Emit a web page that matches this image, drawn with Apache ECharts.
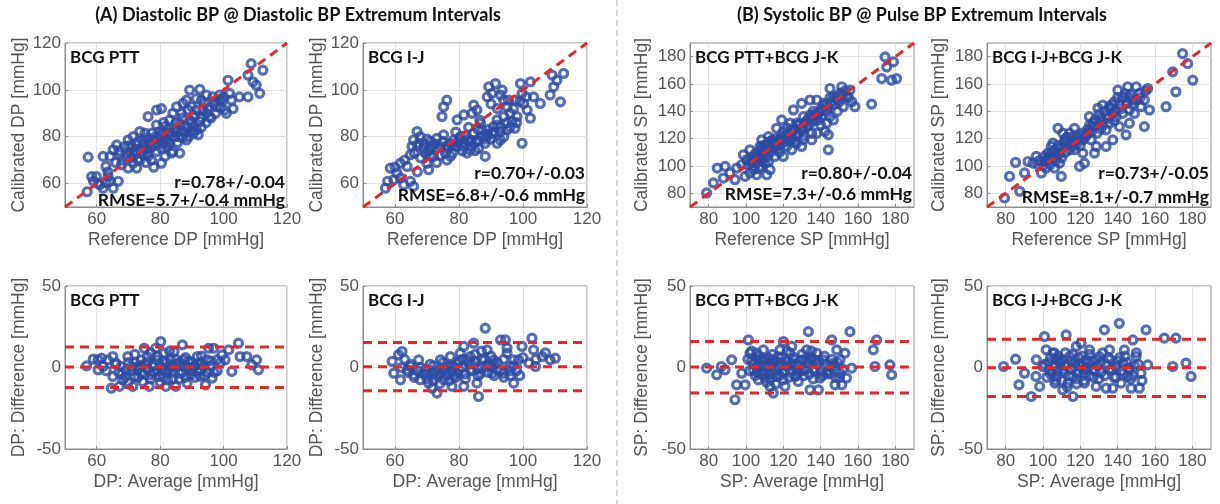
<!DOCTYPE html>
<html>
<head>
<meta charset="utf-8">
<script src="https://cdn.jsdelivr.net/npm/echarts@6/dist/echarts.min.js"></script>
<style>
  html, body { margin: 0; padding: 0; background: #fff; }
  #chart { width: 1220px; height: 504px; }
</style>
</head>
<body>
<div id="chart"></div>
<script>
// tick labels
const dpTicks = [60, 80, 100, 120];
const spTicks = [80, 100, 120, 140, 160, 180];
const diffTicks = [-50, 0, 50];

// top row: [reference, calibrated]
const dpPtt = [
  [57.3,71.3],[58.4,63],[59.9,63],[59,61],[61,59.5],[62,71.6],[62.9,67.3],[63.6,63],[65.2,58],[66.8,61],
  [65.2,74.4],[64.2,71.6],[66.3,76.5],[67.3,72.3],[67.8,68],[69.4,71.6],[69.9,78.6],[71,75.8],[72,72.3],[71.5,68.7],
  [72.6,66.6],[73.6,82.2],[74.7,78.6],[75.7,75],[76.2,71.6],[77.3,70],[78.9,73.7],[80.4,68.7],[77.3,81.5],[76.2,88.6],
  [78.9,91.4],[80.4,92],[78.9,85],[79.9,82.2],[81.5,84.3],[82.5,80.8],[83,77],[84,73.7],[86.2,73],[84.6,83.3],
  [86.2,85.7],[86.7,82.2],[87.8,84.3],[88.8,83.6],[89.9,82.2],[90.4,84.3],[92,80.8],[85.2,92.8],[87.2,94.2],[86.7,90],
  [88.8,91.4],[89.9,92.8],[89.3,99.9],[92.5,100.2],[91.4,96.3],[93,95.6],[93.5,91.4],[94,94.2],[95.6,88.6],[97.2,95],
  [97.7,92.8],[98.8,97.8],[99.8,95.6],[100.3,91.4],[100.9,90],[101.4,104.1],[101.9,98.5],[102.5,95.6],[103,92],[105,97],
  [107.7,97],[109.3,103.4],[107.7,106.3],[108.7,111.2],[112.4,108.4],[111.4,98.5],[110.3,102],[69.9,66.6],[62,58],[64.2,61],
  [68.9,75.8],[71.5,80],[73,77.9],[75.2,81.5],[76.8,77.2],[77.9,78.6],[81,77.2],[82.1,75.8],[81.5,71.6],[74.7,72.3],
  [73.6,70],[83,87.2],[84,90],[83.6,73],[88.3,78.6],[94.6,97.8],[96.6,97],[88.3,95.6],[90.4,88.6],[92.5,86.5],
  [94.6,90],[91.4,91.4],[57,56.5],[70.5,73],[72.5,76.5],[74,74],[76,79.5],[78,76],[79.5,79],[80.5,75],
  [82,79],[84.5,80],[85.5,77.5],[87,79.5],[89,80],[90.5,81.5],[91.5,83],[93,84],[94.5,86],[96,88],
  [97.5,90],[99,92.5],[87,88],[89.5,87],[85,86],[83,83.5],[81,86],[73,70.5],[75.5,69],[78,67],
  [68,70],[66,69],[63.5,65],[60.5,60],[63,60.5],[71,71],[72,74],[74.5,76],[76,73],[77,75.5],
  [78.5,80],[80,80.5],[81,82],[82.5,78],[83.5,81.5],[85,82],[86,80],[88,82],[90,86],[91,89],
  [93,88],[95,92],[97,94],[99,96],[100,97],[79,77],[75,77],[70,76],[67,74]
];
const dpIj = [
  [57.7,61],[57,58],[58.5,66.6],[60.6,64.5],[59.6,61.6],[61.7,62.4],[62.7,59.5],[64.8,61],[65.8,58.8],[63.8,67.3],
  [61.7,68.7],[64.8,72.3],[65.8,78.6],[65.3,75.8],[66.9,82.2],[67.4,77.2],[67.9,80],[69,77.2],[69.5,73],[70,68.7],
  [70.5,65.9],[72.1,71.6],[71.6,75.8],[73.1,79.3],[74.2,75.8],[75.2,80.8],[75.7,73],[76.2,70],[77.3,77.2],[78.3,78.6],
  [79.4,75.8],[80.4,80],[81.5,77.2],[82.5,73],[83,77.9],[84.6,81.5],[85.6,78.6],[86.1,75],[87.2,82.9],[88.2,77.2],
  [88.8,80],[90.3,81.5],[91.9,77.2],[90.8,84.3],[92.9,78.6],[76.2,95.6],[75.2,92.8],[74.7,88.6],[79.4,87.2],[81.5,89.3],
  [84.1,90],[84.6,93.5],[85.6,91.4],[86.7,85.7],[88.8,97],[89.3,101.3],[91.4,102.7],[90.3,98.5],[93,97.8],[94,95.6],
  [93.5,99.9],[95,92.8],[96,90],[96.6,86.5],[98.1,88.6],[99.2,102.7],[102.3,103.4],[99.7,98.5],[100.2,94.2],[101.3,91.4],
  [102.3,87.9],[99.7,77.2],[103.3,97],[105.4,94.2],[108.5,97.8],[109.6,101.3],[110.6,104.1],[112.7,107],[109.1,106.3],[111.7,94.9],
  [94,88.6],[93,82.2],[91.9,87.2],[95.5,95.6],[97.5,95.6],[97.5,83.6],[95,82.9],[88.2,71.6],[83.5,74.4],[77.3,71.6],
  [68,71],[70.5,74],[72.5,77],[74,72],[76.5,75],[78,73],[80,77.5],[81,74],[82,80.5],[84,76],
  [85,74],[87,80],[89,83],[90,79],[92,85],[94,80],[96,84],[98,86],[86.5,87],[83,84],
  [79,82],[73,69],[71,78],[66,73],[63,70],[60,67],[67,65],[69,75],[71,72],[73,75],
  [75,78],[76,76],[78,76],[80,79],[81,76],[83,79],[84,78],[86,78],[88,79],[89,81],
  [91,82],[93,84],[95,86],[97,92],[99,95],[101,97],[90,94],[92,92],[86,83],[70,79],[67,76]
];
const spPttJk = [
  [78.9,80.3],[82.5,87.6],[84.6,98.5],[87.9,91.2],[88.8,99.7],[91.4,94.9],[94.1,90],[95,98.5],[97.7,100.9],[98.6,108.2],
  [100.4,104.6],[102.1,111.8],[103,102.1],[103.9,97.3],[105.7,93.6],[106.6,107],[107.5,114.3],[108.4,119.1],[109.3,111.8],[110.2,102.1],
  [111.1,93.6],[112,121.5],[112.9,114.3],[114.6,116.7],[116.4,111.8],[118.2,119.1],[116.4,127.6],[120,125.2],[121.8,114.3],[123.6,121.5],
  [124.5,111.8],[125.4,141],[127.1,131.3],[128,124],[129.8,114.3],[130.7,136.1],[132.5,128.8],[134.3,137.3],[135.2,124],[137,133.7],
  [137.9,148.3],[139.6,141],[141.4,144.6],[142.3,125.2],[143.2,131.3],[144.1,122.8],[145,136.1],[146.8,150.7],[145,156.7],[148.6,148.3],
  [150.4,153.1],[151.3,158],[152.1,143.4],[153.9,150.7],[155.7,155.5],[156.6,147],[158.4,143.4],[167.3,145.3],[172.7,164],[175.4,172.5],
  [178,162.8],[179,176.2],[174.5,179.8],[180.7,164],[111.1,107],[108.4,99.7],[105.7,102.1],[102.1,94.9],[99.5,92.4],[112.9,97.3],
  [115.5,107],[120,107],[124.5,119.1],[127.1,116.7],[130.7,119.1],[135.2,119.1],[138,124],[138.8,133.7],[134.3,148.3],[140.5,136.1],
  [143.2,139.8],[144.1,111.8],[146.8,133.7],[152.1,152],[129.8,145.8],[123.6,131.3],[119.1,133.7],[101,101],[103,105],[104,99],
  [105,109],[106,103],[107,98],[108,106],[109,115],[110,109],[111,116],[112,103],[113,110],[114,119],
  [115,113],[117,115],[118,110],[119,122],[121,118],[122,128],[125,125],[126,118],[128,130],[130,128],
  [131,122],[133,134],[134,130],[136,140],[138,137],[140,130],[142,146],[144,143],[145,150],[147,145],
  [149,140],[150,147],[153,155],[155,150],[103,103],[104,107],[106,105],[107,110],[108,112],[109,104],
  [110,113],[111,111],[112,117],[113,118],[114,112],[116,120],[117,118],[119,116],[120,120],[122,123],
  [123,118],[124,126],[126,127],[127,122],[129,131],[130,126],[132,132],[134,135],[135,133],[137,138],
  [139,139],[141,141],[143,145],[146,147],[148,150],[150,151]
];
const spIjJk = [
  [79.4,76.6],[82.1,92.4],[85.3,102.6],[87.5,81.5],[90.1,94.9],[92,103.3],[94.6,102.1],[97.3,100.9],[99.1,94.9],[101.7,98.5],
  [102.6,109.4],[104.4,114.3],[105.3,104.6],[106.2,98.5],[108.9,102.1],[109.8,92.4],[108,127.6],[110.6,124],[112.4,119.1],[114.2,111.8],
  [116,114.3],[116.9,127.6],[118.7,119.1],[121.3,109.4],[122.2,102.1],[123.9,124],[124.8,136.1],[126.7,128.8],[128.5,114.3],[129.4,142.2],
  [131.1,134.9],[132,144.6],[133.8,126.4],[135.6,131.3],[137.4,138.5],[138.3,147.1],[139.2,136.1],[140.1,155.5],[142.7,150.7],[144.5,122.8],
  [145.4,158],[146.3,141],[148.1,148.3],[149.9,158],[151.6,153.1],[152.5,143.4],[154.3,128.8],[156.1,156.7],[157,141],[165.9,143.4],
  [171.2,154.3],[169.5,168.9],[177.5,174.9],[174.8,182.2],[180.2,162.8],[100.8,107],[96.4,107],[119.6,99.7],[127.6,109.4],[133.8,114.3],
  [137.4,119.1],[140.9,128.8],[142.7,138.5],[146.3,131.3],[149,138.5],[135.6,143.4],[121.3,119.1],[114.2,124],[107.1,109.4],[105.3,116.7],
  [154.3,148.3],[125.8,119.1],[98,104],[100,100],[103,106],[104,101],[106,111],[107,104],[109,113],[110,106],
  [111,117],[112,110],[113,121],[115,117],[117,112],[119,123],[120,115],[122,120],[124,127],[127,132],
  [129,124],[130,138],[132,130],[134,137],[136,142],[138,133],[141,145],[143,150],[145,146],[147,152],
  [150,148],[152,150],[155,155],[101,103],[102,105],[104,108],[105,110],[107,107],[108,115],[109,109],
  [111,114],[112,120],[114,116],[115,121],[117,118],[118,116],[120,121],[121,124],[123,122],[125,130],
  [126,125],[128,134],[130,132],[131,127],[133,140],[135,135],[137,145],[139,140],[140,150],[142,142],
  [144,153],[146,150],[148,145]
];

// bottom row: [average, difference]
const baDpPtt = [
  [56.8,1],[58.9,5.1],[60.4,4.7],[61.5,5.7],[60.4,-1.4],[62,0.6],[63.5,4.7],[65.1,6.7],[66.1,2.7],[65.1,-5.5],
  [64.6,-12.7],[67.2,-11.6],[68.2,-7.6],[69.3,-1.4],[69.8,6.7],[71.4,-11.6],[71.9,-5.5],[72.9,0.6],[74,4.7],[75,11.8],
  [76,6.7],[76.6,-11.6],[77.1,-4.5],[78.6,11.8],[79.2,4.7],[80.2,15.9],[80.7,-1.4],[81.3,8.8],[81.8,-11.6],[82.3,-7.6],
  [83.3,4.7],[84.4,9.8],[84.9,-11.6],[86,-3.5],[87,13.9],[87.5,4.7],[88.5,-9.6],[89.6,-4.5],[90.6,0.6],[91.7,6.7],
  [92.7,-1.4],[94.3,-10.6],[94.8,4.7],[95.3,11.8],[96.4,-6.5],[96.9,11.8],[97.9,4.7],[99.5,7.7],[100.5,4.7],[101.6,10.8],
  [102.6,-2.4],[104.7,14.9],[105.2,6.7],[107.3,6.7],[108.9,1.6],[110.4,4.7],[111,-1.4],[67.7,0.6],[70.9,0.6],[74,-3.5],
  [77.6,0.6],[83.9,0.6],[88.5,0.6],[93.8,0.6],[79.7,-5.5],[74.5,-8.6],[82.8,-1.4],[92.7,-5.5],[63,-2],[66,2],
  [68,-4],[70,3],[71,-2],[73,-6],[75,2],[76,-1],[78,-3],[79,7],[80,1],[81,-6],
  [82,3],[84,-3],[85,5],[86,-7],[87,1],[88,6],[89,-1],[90,3],[91,-6],[92,2],
  [93,7],[95,-3],[96,1],[98,-2],[99,3],[72,8],[77,9],[83,10],[67,-3],[69,-6],
  [70,-9],[72,3],[73,-1],[74,1],[75,-4],[76,3],[77,-7],[78,2],[79,-2],[80,-9],
  [81,4],[82,-3],[83,1],[84,-7],[85,2],[86,3],[87,-3],[88,-6],[89,4],[90,-2],
  [91,1],[92,-3],[93,3],[94,-5],[96,4],[97,-3]
];
const baDpIj = [
  [59.1,3.7],[59.6,-3.5],[61.1,7.8],[62.2,9.8],[61.7,-7.6],[63.8,-1.4],[65.8,-4.5],[67.4,4.7],[67.9,-7.6],[69.5,-1.4],
  [70.5,-9.6],[71.6,-12.7],[73.1,-15.7],[74.2,4.7],[75.2,-7.6],[76.3,0.6],[77.3,6.7],[78.3,-5.5],[79.4,2.7],[80.4,8.8],
  [81.5,-11.6],[82.5,4.7],[83.5,-1.4],[84.6,14.9],[85.6,-9.6],[86.1,-17.8],[87.2,4.7],[88.2,24.1],[88.8,10.8],[90.3,-3.5],
  [91.9,-1.4],[93,16.9],[94.5,16.9],[95,8.8],[96,0.6],[97.1,-9.6],[98.6,4.7],[99.7,12.9],[101.8,2.7],[102.8,18],
  [103.3,10.8],[103.9,0.6],[106,6.7],[108.5,4.7],[110.1,5.7],[64.8,0.6],[72.1,-3.5],[75.2,-1.4],[79.4,-3.5],[83.5,6.7],
  [86.7,-3.5],[88.8,0.6],[90.8,4.7],[93.9,-3.5],[97.1,4.7],[81.5,12.9],[77.8,-11.6],[62,0],[63,5],[64,-3],
  [66,-6],[68,0],[70,-4],[71,2],[72,-8],[73,-2],[74,-10],[75,3],[76,-5],[77,1],
  [78,-2],[80,4],[81,0],[82,-4],[84,2],[85,8],[86,-1],[87,10],[89,2],[90,7],
  [91,-5],[92,3],[94,-6],[95,12],[96,-2],[99,-5],[100,6],[104,5],[107,9],[65,2],
  [67,-2],[69,-4],[70,-7],[72,1],[73,-5],[74,-4],[76,-2],[77,-8],[78,1],[79,-6],
  [80,-1],[81,5],[82,-7],[83,3],[84,-2],[85,4],[86,-5],[87,0],[88,5],[89,-3],
  [90,1],[91,2],[93,-2],[94,5],[96,-5],[97,1],[98,-2]
];
const baSpPttJk = [
  [78.9,-0.4],[84.3,-4.5],[86.8,0.6],[88.8,-1.4],[92.3,4.7],[94.1,-19.8],[95,-10.6],[97.7,-3.5],[99.5,-10.6],[101.3,16.9],
  [102.1,8.8],[103.9,-1.4],[105.7,8.8],[106.6,-7.6],[108.4,4.7],[110.2,-6.5],[111.1,0.6],[112.9,-11.6],[114.6,-15.7],[115.5,-1.4],
  [117.3,6.7],[118.2,10.8],[120,15.9],[120.9,-11.6],[121.8,0.6],[123.6,8.8],[124.5,12.9],[126.3,-5.5],[128,-8.6],[129.8,4.7],
  [132.5,10.8],[133.4,22],[134.3,-13.7],[136.1,-1.4],[137.9,8.8],[138.8,-13.7],[139.6,-6.5],[141.4,4.7],[143.2,-3.5],[145.9,16.9],
  [146.8,2.7],[147.7,-10.6],[148.6,10.8],[150.4,-3.5],[151.3,-10.6],[153,8.8],[153.9,-6.5],[155.7,22],[156.6,-0.4],[168.2,10.8],
  [170,16.9],[169.1,0.6],[177.1,1.6],[178,-4.5],[105.7,0.6],[109.3,10.8],[113.8,4.7],[116.4,-5.5],[124.5,2.7],[127.1,-1.4],
  [131.6,-1.4],[134.3,4.7],[136.9,4.7],[145,0.6],[150.4,4.7],[120,-7.6],[101,5],[103,10],[104,2],[106,-3],
  [107,7],[109,-2],[110,5],[111,-9],[112,3],[113,-4],[114,8],[116,-10],[117,1],[119,6],
  [120,-3],[122,10],[123,-6],[125,5],[127,2],[128,-3],[130,8],[131,-5],[133,3],[135,10],
  [136,-7],[138,2],[140,-3],[142,7],[144,-2],[146,5],[148,-6],[149,3],[152,-1],[102,-2],
  [103,4],[105,-5],[106,5],[108,-4],[109,1],[110,-4],[112,6],[113,-7],[114,2],[115,-4],
  [116,4],[118,-5],[119,3],[121,-2],[122,4],[124,-3],[126,6],[127,-5],[129,1],[130,-2],
  [132,5],[134,-4],[135,6],[137,-2],[139,4],[141,-5],[143,2],[145,-4],[147,1],[150,-6]
];
const baSpIjJk = [
  [78.9,0.6],[85.3,5.1],[87.1,-10.6],[90.1,-3.5],[93.7,-17.8],[96.2,-5.5],[96.4,4.7],[98.2,-11.6],[100.8,19],[101.7,10.8],
  [103.5,-1.4],[105.3,8.8],[107.1,-5.5],[108.9,2.7],[110.6,-13.7],[112.4,20],[113.3,-9.6],[114.2,6.7],[116,-17.8],[117.8,12.9],
  [118.7,-3.5],[120.4,14.9],[122.2,-9.6],[123.1,4.7],[124.9,10.8],[126.7,-1.4],[128.5,-11.6],[130.2,6.7],[132.9,23.1],[133.8,-12.7],
  [135.6,10.8],[137.4,-12.7],[139.2,0.6],[140.9,27.1],[141.8,-9.6],[143.6,10.8],[145.4,-5.5],[147.2,-12.7],[148.1,16.9],[149.9,6.7],
  [151.6,-12.7],[152.5,-3.5],[155.2,23.1],[156.1,1.6],[165,18],[169.5,0.6],[171.2,18],[176.6,2.7],[179.3,-5.5],[99.9,0.6],
  [107.1,4.7],[110.6,-1.4],[116.9,0.6],[121.3,-1.4],[128.5,4.7],[135.6,-1.4],[142.8,2.7],[146.3,-1.4],[116,-5.5],[106.4,-9.6],
  [101,2],[102,-6],[104,6],[105,-3],[106,9],[108,-2],[109,5],[110,-8],[112,1],[113,-12],
  [115,4],[116,8],[118,-7],[119,2],[121,7],[122,-4],[124,3],[125,8],[127,-6],[129,1],
  [131,-3],[132,9],[134,2],[136,5],[138,-6],[140,4],[142,-2],[144,7],[146,0],[148,-5],
  [150,9],[151,2],[153,-8],[103,3],[104,-4],[106,1],[107,-8],[108,7],[110,4],[111,-3],
  [112,9],[114,-5],[115,-1],[117,3],[118,-10],[119,6],[121,1],[122,-8],[123,-1],[125,-5],
  [126,4],[128,-2],[130,-7],[131,3],[133,-5],[135,6],[137,-1],[139,-6],[141,6],[143,-4],
  [145,3],[147,-7],[149,1]
];

// Bland-Altman lines per panel: [lower, mean, upper]
const baLines = [[-12.3, 0.3, 12.6], [-14.3, 0.5, 15.3], [-15.6, 0.3, 16.0], [-17.8, -0.1, 17.4]];

const panelNames = ['BCG PTT', 'BCG I-J', 'BCG PTT+BCG J-K', 'BCG I-J+BCG J-K'];
const rTexts = ['r=0.78+/-0.04', 'r=0.70+/-0.03', 'r=0.80+/-0.04', 'r=0.73+/-0.05'];
const rmseTexts = ['RMSE=5.7+/-0.4 mmHg', 'RMSE=6.8+/-0.6 mmHg', 'RMSE=7.3+/-0.6 mmHg', 'RMSE=8.1+/-0.7 mmHg'];

const topData = [dpPtt, dpIj, spPttJk, spIjJk];
const bottomData = [baDpPtt, baDpIj, baSpPttJk, baSpIjJk];

// layout
const cols = [{ left: 65, width: 222 }, { left: 363, width: 224 }, { left: 690, width: 224 }, { left: 987, width: 224 }];
const rows = [{ top: 43, height: 164 }, { top: 286, height: 163 }];
const statY = [[139, 157], [130, 152], [130, 151], [130, 154]];

const tickFont = 'Liberation Sans, Arial, sans-serif';
const boldFont = 'Lato, Calibri, sans-serif';
const blue = '#2d4ca3';
const red = '#e6252d';

function makeAxis(gi, range, ticks, name, gap) {
  return {
    type: 'value', gridIndex: gi, min: range[0], max: range[1],
    name: name, nameLocation: 'middle', nameGap: gap,
    nameTextStyle: { fontFamily: tickFont, fontSize: 17.5, color: '#555' },
    axisLine: { show: true, onZero: false, lineStyle: { color: '#8c8c8c' } },
    axisTick: { show: true, inside: true, length: 3, customValues: ticks, lineStyle: { color: '#8c8c8c' } },
    axisLabel: { customValues: ticks, fontFamily: tickFont, fontSize: 17, color: '#555', margin: 4 },
    splitLine: { show: true, lineStyle: { color: '#e3e3e3' } }
  };
}

const grids = [], xAxes = [], yAxes = [], series = [], graphics = [];

for (let c = 0; c < 4; c++) {
  const isDP = c < 2;
  const bp = isDP ? 'DP' : 'SP';
  const range = isDP ? [50, 120] : [70, 190];
  const ticks = isDP ? dpTicks : spTicks;
  const yGap = isDP ? 37 : 39;
  for (let r = 0; r < 2; r++) {
    const gi = r * 4 + c;
    grids[gi] = {
      left: cols[c].left, width: cols[c].width, top: rows[r].top, height: rows[r].height,
      show: true, borderColor: '#8c8c8c', borderWidth: 1, backgroundColor: '#fff'
    };
    const pts = r === 0 ? topData[c] : bottomData[c];
    if (r === 0) {
      xAxes[gi] = makeAxis(gi, range, ticks, 'Reference ' + bp + ' [mmHg]', 24);
      yAxes[gi] = makeAxis(gi, range, ticks, 'Calibrated ' + bp + ' [mmHg]', yGap);
      series.push({
        type: 'line', xAxisIndex: gi, yAxisIndex: gi, symbol: 'none', silent: true, z: 3,
        data: [[range[0], range[0]], [range[1], range[1]]],
        lineStyle: { color: red, width: 3, type: [9, 6] }
      });
    } else {
      xAxes[gi] = makeAxis(gi, range, ticks, bp + ': Average [mmHg]', 24);
      yAxes[gi] = makeAxis(gi, [-50, 50], diffTicks, bp + ': Difference [mmHg]', yGap);
      baLines[c].forEach(function (v) {
        series.push({
          type: 'line', xAxisIndex: gi, yAxisIndex: gi, symbol: 'none', silent: true, z: 3,
          data: [[range[0], v], [range[1], v]],
          lineStyle: { color: red, width: 3, type: [9, 6] }
        });
      });
    }
    series.push({
      type: 'scatter', xAxisIndex: gi, yAxisIndex: gi, data: pts,
      symbol: 'circle', symbolSize: 8, silent: true, z: 2,
      itemStyle: { color: 'rgba(0,0,0,0)', borderColor: blue, borderWidth: 3.2 }
    });
    // panel label
    graphics.push({
      type: 'text', z: 10, x: cols[c].left + 5, y: rows[r].top + 15,
      style: { text: panelNames[c], font: 'bold 17px ' + boldFont, fill: '#111', verticalAlign: 'middle' }
    });
  }
  const right = cols[c].left + cols[c].width - 2;
  graphics.push({
    type: 'text', z: 10, x: right, y: rows[0].top + statY[c][0],
    style: { text: rTexts[c], font: 'bold 17.5px ' + boldFont, fill: '#111', align: 'right', verticalAlign: 'middle' }
  });
  graphics.push({
    type: 'text', z: 10, x: right, y: rows[0].top + statY[c][1],
    style: { text: rmseTexts[c], font: 'bold 17.5px ' + boldFont, fill: '#111', align: 'right', verticalAlign: 'middle' }
  });
}

// titles
graphics.push({
  type: 'text', x: 298, y: 15,
  style: { text: '(A) Diastolic BP @ Diastolic BP Extremum Intervals', font: 'bold 18px ' + boldFont, fill: '#111', align: 'center', verticalAlign: 'middle' }
});
graphics.push({
  type: 'text', x: 922, y: 15,
  style: { text: '(B) Systolic BP @ Pulse BP Extremum Intervals', font: 'bold 18px ' + boldFont, fill: '#111', align: 'center', verticalAlign: 'middle' }
});
// dashed separator
graphics.push({
  type: 'line', shape: { x1: 617, y1: 0, x2: 617, y2: 504 },
  style: { stroke: '#b5b5b5', lineWidth: 1, lineDash: [6, 4] }
});

const myChart = echarts.init(document.getElementById('chart'));
myChart.setOption({
  animation: false,
  backgroundColor: '#fff',
  grid: grids,
  xAxis: xAxes,
  yAxis: yAxes,
  series: series,
  graphic: graphics
});
</script>
</body>
</html>
